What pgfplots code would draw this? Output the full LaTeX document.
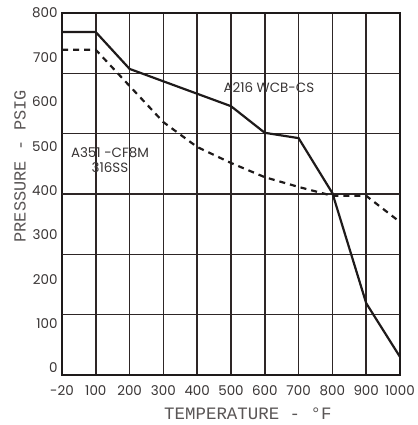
\documentclass[border=0pt]{standalone}
\usepackage{pgfplots}
\pgfplotsset{compat=1.18}
\usepackage{fontspec}
\setmainfont{Poppins}
\newfontfamily\mono{Liberation Mono}
\definecolor{ink}{HTML}{1E1A1A}
\definecolor{gridc}{HTML}{2E2626}
\definecolor{txt}{HTML}{383434}
\definecolor{lbl}{HTML}{5A5656}

\begin{document}
\begin{tikzpicture}
  \useasboundingbox (-62bp,-50bp) rectangle (356bp,375bp);
  \begin{axis}[
    at={(0,0)}, anchor=south west,
    scale only axis,
    width=338bp,
    height=362bp,
    xmin=0, xmax=10,
    ymin=-15.8, ymax=800,
    xtick={0,1,...,10},
    xticklabels={-20,100,200,300,400,500,600,700,800,900,1000},
    ytick={0,100,...,800},
    major tick length=0pt,
    xmajorgrids=true,
    extra y ticks={120.2,256.1,392.1,528.0,664.0},
    extra y tick labels={},
    extra y tick style={ymajorgrids=true, major tick length=0pt},
    major grid style={line width=1.5pt, draw=gridc},
    axis line style={line width=2.4pt, draw=ink},
    /pgf/number format/assume math mode=true,
    ticklabel style={font=\fontsize{13.5}{15}\selectfont, text=txt},
    xticklabel style={yshift=-7bp},
    yticklabel style={xshift=-1bp},
    xlabel={TEMPERATURE - °F},
    ylabel={PRESSURE - PSIG},
    xlabel style={font=\mono\fontsize{17.5}{19}\selectfont, text=lbl,
      at={(axis description cs:0.550,-0.108)}, anchor=center},
    ylabel style={font=\mono\fontsize{17}{19}\selectfont, text=lbl,
      at={(axis description cs:-0.124,0.577)}, anchor=center},
    clip=false,
  ]

  % A216 WCB-CS
  \addplot[ink, line width=2.2pt] coordinates {
    (0,757) (1,757) (2,674) (5,590) (6,530) (7,518) (8,394) (9,146) (10,25)
  };

  % A351 CF8M 316SS
  \addplot[ink, line width=2.2pt, dash pattern=on 6bp off 5bp] coordinates {
    (0,717) (1,717) (3,554) (4,498) (5,462) (6,430) (7,408) (8,388) (9,388) (10,329)
  };

  \node[font=\fontsize{13.5}{15}\selectfont, text=txt] at (axis cs:6.12,633) {A216 WCB-CS};
  \node[font=\fontsize{13.5}{14.5}\selectfont, text=txt, align=center] at (axis cs:1.42,469) {A351 -CF8M\\316SS};
  \end{axis}
\end{tikzpicture}
\end{document}
